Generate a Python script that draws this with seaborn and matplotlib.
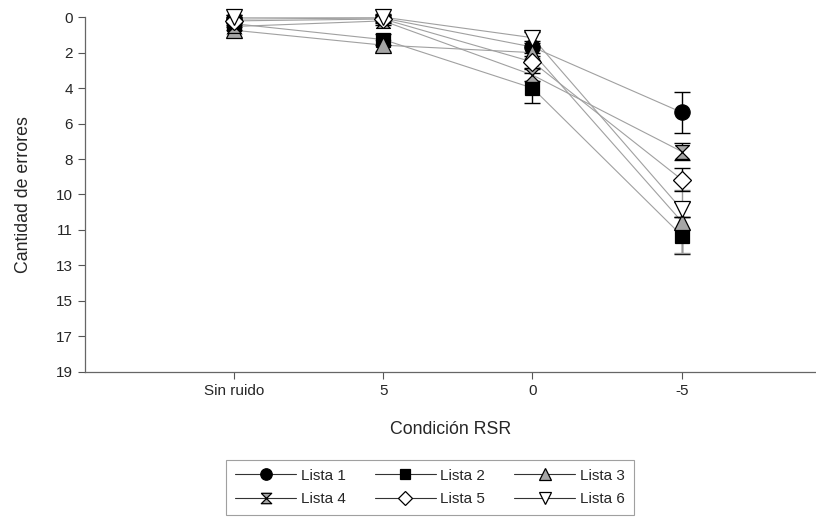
import numpy as np
import pandas as pd
import matplotlib
matplotlib.use('Agg')
import matplotlib.pyplot as plt
from matplotlib.lines import Line2D
import seaborn as sns

# Data
conditions = ['Sin ruido', '5', '0', '-5']
series_names = ['Lista 1', 'Lista 2', 'Lista 3', 'Lista 4', 'Lista 5', 'Lista 6']

lista1 = [0.1, 0.05, 1.6, 5.1]
lista2 = [0.35, 1.2, 3.8, 11.7]
lista3 = [0.7, 1.5, 1.9, 10.95]
lista4 = [0.5, 0.2, 3.1, 7.2]
lista5 = [0.2, 0.1, 2.4, 8.7]
lista6 = [0.0, 0.0, 1.1, 10.3]

err1 = [0.2, 0.2, 0.3, 1.1]
err2 = [0.2, 0.3, 0.8, 1.0]
err3 = [0.2, 0.3, 0.3, 1.7]
err4 = [0.2, 0.2, 0.3, 0.45]
err5 = [0.2, 0.2, 0.3, 0.6]
err6 = [0.1, 0.1, 0.3, 0.4]

y_ticks = [0, 1.9, 3.8, 5.7, 7.6, 9.5, 11.4, 13.3, 15.2, 17.1, 19]

values = [lista1, lista2, lista3, lista4, lista5, lista6]
errors = [err1, err2, err3, err4, err5, err6]

df = pd.DataFrame({
    'cond': np.tile(np.arange(len(conditions)), len(series_names)),
    'errores': np.concatenate(values),
    'err': np.concatenate(errors),
    'lista': np.repeat(series_names, len(conditions)),
})

hourglass = [(-1, 1), (1, 1), (-1, -1), (1, -1), (-1, 1)]
styles = {
    'Lista 1': dict(marker='o', mfc='black', ms=11, ecol='black'),
    'Lista 2': dict(marker='s', mfc='black', ms=10.5, ecol='black'),
    'Lista 3': dict(marker='^', mfc='#a6a6a6', ms=11, ecol='#9a9a9a'),
    'Lista 4': dict(marker=hourglass, mfc='#a6a6a6', ms=10, ecol='black'),
    'Lista 5': dict(marker='D', mfc='white', ms=9, ecol='black'),
    'Lista 6': dict(marker='v', mfc='white', ms=11, ecol='black'),
}

sns.set_style('ticks')
plt.rcParams['font.family'] = ['Liberation Sans', 'DejaVu Sans']

fig = plt.figure(figsize=(8.16, 5.2), dpi=100)
ax = fig.add_axes([0.104, 0.285, 0.896, 0.682])

# connecting lines
for name in series_names:
    sub = df[df['lista'] == name]
    sns.lineplot(data=sub, x='cond', y='errores', ax=ax, color='#a0a0a0',
                 linewidth=0.8, zorder=1, legend=False, errorbar=None)

# error bars and markers
for name in series_names:
    sub = df[df['lista'] == name]
    st = styles[name]
    ax.errorbar(sub['cond'], sub['errores'], yerr=sub['err'], fmt='none',
                ecolor=st['ecol'], elinewidth=1, capsize=5.5, capthick=1,
                zorder=2, clip_on=False)
    ax.plot(sub['cond'], sub['errores'], linestyle='none', marker=st['marker'],
            markersize=st['ms'], markerfacecolor=st['mfc'],
            markeredgecolor='black', markeredgewidth=0.9, zorder=3, clip_on=False)

ax.set_xlim(-1, 3.9)
ax.set_ylim(19, 0)
ax.set_xticks(range(len(conditions)))
ax.set_xticklabels(conditions)
ax.set_yticks(y_ticks)
ax.set_yticklabels([f'{t:.0f}' for t in y_ticks])
ax.set_xlabel('Condición RSR', fontsize=12.8, labelpad=17)
ax.set_ylabel('Cantidad de errores', fontsize=12.8, labelpad=17)
ax.tick_params(axis='both', labelsize=11, length=5, width=0.8, color='#555555')

for side in ['top', 'right']:
    ax.spines[side].set_visible(False)
for side in ['left', 'bottom']:
    ax.spines[side].set_color('#666666')
    ax.spines[side].set_linewidth(0.9)

handles = {}
for name in series_names:
    st = styles[name]
    handles[name] = Line2D([], [], color='#333333', linewidth=0.8, marker=st['marker'],
                           markersize=st['ms'] * 0.75, markerfacecolor=st['mfc'],
                           markeredgecolor='black', markeredgewidth=0.9)

# row-major order for a 3-column legend
leg_order = ['Lista 1', 'Lista 4', 'Lista 2', 'Lista 5', 'Lista 3', 'Lista 6']
leg = fig.legend([handles[n] for n in leg_order], leg_order, loc='upper center',
                 bbox_to_anchor=(0.527, 0.116), ncol=3, fontsize=11, frameon=True,
                 fancybox=False, handlelength=4, handletextpad=0.3, columnspacing=1.9,
                 borderpad=0.6, labelspacing=0.6, borderaxespad=0)
leg.get_frame().set_edgecolor('#888888')
leg.get_frame().set_linewidth(0.8)

fig.savefig('out.png', dpi=100)
